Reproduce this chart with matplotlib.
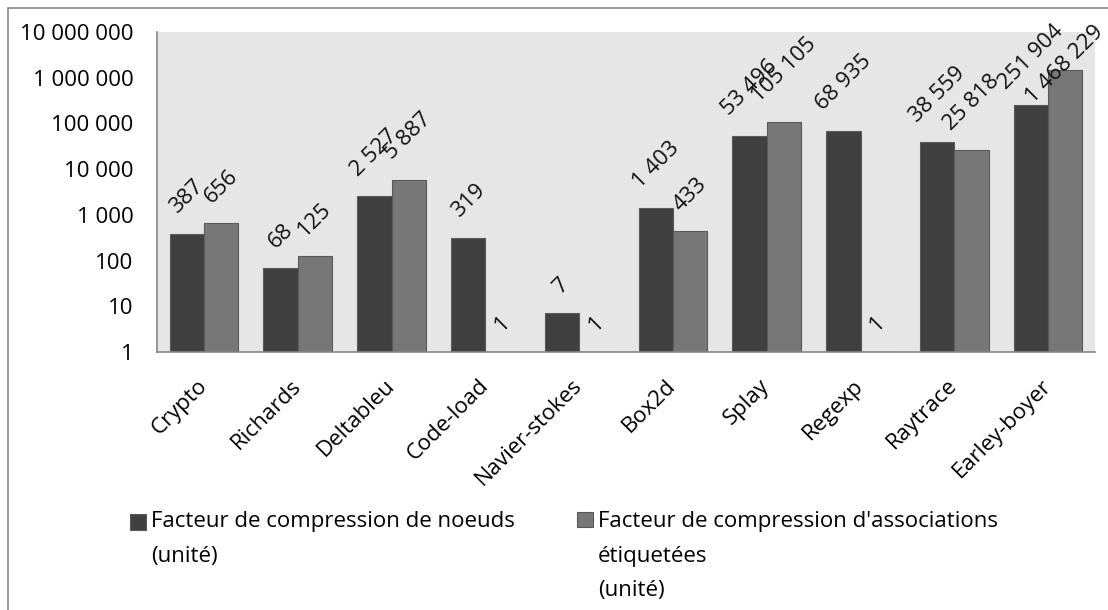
import matplotlib.pyplot as plt
import numpy as np
from matplotlib.patches import Rectangle
from matplotlib.legend_handler import HandlerPatch
from matplotlib.ticker import FuncFormatter, FixedLocator

plt.rcParams['font.family'] = ['Open Sans', 'DejaVu Sans']

categories = ["Crypto", "Richards", "Deltableu", "Code-load", "Navier-stokes",
              "Box2d", "Splay", "Regexp", "Raytrace", "Earley-boyer"]
noeuds = [387, 68, 2527, 319, 7, 1403, 53496, 68935, 38559, 251904]
associations = [656, 125, 5887, 1, 1, 433, 105105, 1, 25818, 1468229]
series_names = ["Facteur de compression de noeuds\n(unité)",
                "Facteur de compression d'associations\nétiquetées\n(unité)"]
y_ticks = [1, 10, 100, 1000, 10000, 100000, 1000000, 10000000]

FS = 16
LINESP = 1.85


def fmt(v):
    return f"{int(v):,}".replace(",", " ")


def top_square(nlines):
    # legend square next to the first line of a multi-line label
    def make(legend, orig_handle, xdescent, ydescent, width, height, fontsize):
        shift = (0.9 * (nlines - 1) - 0.135) * fontsize
        return Rectangle((-xdescent, -ydescent + shift), width, height)
    return make


fig = plt.figure(figsize=(11.08, 6.10), dpi=100)
fig.patches.append(Rectangle((8 / 1108, -0.1), 1.2, 1.1 - 8 / 610,
                             transform=fig.transFigure, fill=False,
                             edgecolor="#888888", lw=1.2))

ax = fig.add_axes([157 / 1108, 1 - 352 / 610, 938 / 1108, 320 / 610])
ax.set_facecolor("#e6e6e6")

x = np.arange(len(categories))
w = 0.365
b1 = ax.bar(x - w / 2, np.array(noeuds) - 1, w, bottom=1, color="#404040",
            edgecolor="#5a5a5a", lw=0.8)
b2 = ax.bar(x + w / 2, np.array(associations) - 1, w, bottom=1, color="#777777",
            edgecolor="#5a5a5a", lw=0.8)

anns = []
for xs, vals in ((x - w / 2, noeuds), (x + w / 2, associations)):
    for xi, v in zip(xs, vals):
        anns.append(ax.annotate(fmt(v), (xi, v), xytext=(0, 16),
                                textcoords="offset pixels", rotation=45,
                                ha="center", va="bottom", fontsize=FS,
                                color="#111111"))

ax.set_yscale("log")
ax.set_ylim(1, 1e7)
ax.set_xlim(-0.5, len(categories) - 0.5)
ax.yaxis.set_major_locator(FixedLocator(y_ticks))
ax.yaxis.set_minor_locator(FixedLocator([]))
ax.yaxis.set_major_formatter(FuncFormatter(lambda v, p: fmt(v)))
ax.tick_params(axis="y", length=0, pad=17, labelsize=FS)
ax.set_xticks(x)
ax.set_xticklabels(categories, rotation=45, ha="right", va="center",
                   rotation_mode="anchor", fontsize=FS)
ax.tick_params(axis="x", length=0, pad=22)

for s in ("top", "right"):
    ax.spines[s].set_visible(False)
for s in ("left", "bottom"):
    ax.spines[s].set_color("#868686")
    ax.spines[s].set_linewidth(1.2)

for bars, name, x0 in ((b1, series_names[0], 130), (b2, series_names[1], 577)):
    nl = name.count("\n") + 1
    leg = fig.legend(handles=[bars.patches[0]], labels=[name], loc="upper left",
                     bbox_to_anchor=(x0 / 1108, 1 - 511 / 610), frameon=False,
                     fontsize=FS, handlelength=0.7, handleheight=0.7,
                     handletextpad=0.25, borderpad=0, borderaxespad=0,
                     handler_map={Rectangle: HandlerPatch(patch_func=top_square(nl))})
    for t in leg.get_texts():
        t.set_linespacing(LINESP)

# keep data labels inside the figure, like the spreadsheet does
fig.canvas.draw()
limit = fig.bbox.height - 21
for a in anns:
    bb = a.get_window_extent()
    if bb.y1 > limit:
        a.xyann = (0, 16 - (bb.y1 - limit))

fig.savefig("out.png", dpi=100)
